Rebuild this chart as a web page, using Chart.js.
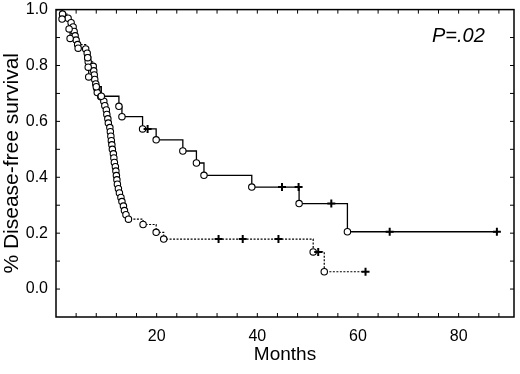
<!DOCTYPE html>
<html>
<head>
<meta charset="utf-8">
<script src="https://cdn.jsdelivr.net/npm/chart.js@4.4.0/dist/chart.umd.min.js"></script>
<style>
  html, body { margin: 0; padding: 0; background: #fff; }
  #wrap { width: 520px; height: 374px; }
</style>
</head>
<body>
<div id="wrap"><canvas id="km"></canvas></div>
<script>
// group drawn with the solid line
const solidEventMonths = [1.2, 2.6, 2.8, 4.4, 6.3, 6.4, 6.5, 8.0, 9.0, 12.5, 13.1, 17.2, 19.9, 25.2, 27.9, 29.4, 38.9, 48.3, 57.9];
const solidEventSurv   = [0.966, 0.931, 0.897, 0.862, 0.828, 0.794, 0.759, 0.724, 0.690, 0.654, 0.617, 0.573, 0.534, 0.494, 0.451, 0.407, 0.365, 0.306, 0.205];
const solidCensorMonths = [18.2, 44.9, 48.2, 54.7, 66.3, 87.6];
const solidCensorSurv   = [0.573, 0.365, 0.365, 0.306, 0.205, 0.205];

// group drawn with the dotted line
const dottedEventMonths = [1.3, 2.4, 3.0, 3.4, 3.6, 3.8, 4.0, 4.3, 5.9, 6.2, 6.3, 6.4, 7.4, 7.5, 7.6, 7.7, 7.9, 8.1, 8.2, 8.9,
  9.5, 9.7, 10.0, 10.1, 10.3, 10.4, 10.7, 10.8, 10.9, 11.0, 11.1, 11.2, 11.4, 11.5, 11.6, 11.8, 11.9, 12.0, 12.1, 12.2,
  12.4, 12.6, 12.9, 13.1, 13.4, 13.6, 13.9, 14.4, 17.3, 19.9, 21.4, 51.1, 53.3];
const dottedEventSurv = [0.984, 0.969, 0.953, 0.938, 0.922, 0.906, 0.891, 0.875, 0.859, 0.844, 0.828, 0.813, 0.797, 0.781, 0.766, 0.750, 0.734, 0.719, 0.703, 0.688,
  0.672, 0.656, 0.641, 0.625, 0.609, 0.594, 0.578, 0.563, 0.547, 0.531, 0.516, 0.500, 0.484, 0.469, 0.453, 0.438, 0.422, 0.406, 0.391, 0.375,
  0.359, 0.344, 0.328, 0.313, 0.297, 0.281, 0.266, 0.250, 0.231, 0.203, 0.179, 0.133, 0.062];
const dottedCensorMonths = [32.3, 37.1, 44.2, 52.1, 61.5];
const dottedCensorSurv   = [0.179, 0.179, 0.179, 0.133, 0.062];

const xTickLabels = [20, 40, 60, 80];
const yTickLabels = [0.0, 0.2, 0.4, 0.6, 0.8, 1.0];

function pts(xs, ys) {
  return xs.map((v, i) => ({ x: v, y: ys[i] }));
}

// step line goes through every event and censor point, starting at 1.0
function curve(eM, eS, cM, cS) {
  const all = pts(eM, eS).concat(pts(cM, cS));
  all.sort((a, b) => a.x - b.x);
  return [{ x: 0, y: 1 }].concat(all);
}

// frame, inward ticks on all four sides, and the P value
const frame = {
  id: 'frame',
  afterDraw(chart) {
    const { ctx, chartArea: a, scales: { x, y } } = chart;
    ctx.save();
    ctx.strokeStyle = '#000';
    ctx.lineWidth = 1;
    ctx.beginPath();
    for (let m = 4; m < 91; m += 4) {
      const px = x.getPixelForValue(m);
      ctx.moveTo(px, a.bottom); ctx.lineTo(px, a.bottom - 4);
      ctx.moveTo(px, a.top); ctx.lineTo(px, a.top + 4);
    }
    for (let k = 0; k < 10; k++) {
      const py = y.getPixelForValue(k / 10);
      ctx.moveTo(a.left, py); ctx.lineTo(a.left + 4, py);
      ctx.moveTo(a.right, py); ctx.lineTo(a.right - 4, py);
    }
    ctx.stroke();
    ctx.lineWidth = 1.5;
    ctx.strokeRect(a.left, a.top, a.width, a.height);
    ctx.fillStyle = '#000';
    ctx.font = 'italic 20px "Liberation Sans", Arial, sans-serif';
    ctx.textBaseline = 'alphabetic';
    ctx.fillText('P=.02', a.right - 82, a.top + 32);
    ctx.restore();
  }
};

const tickFont = { family: '"Liberation Sans", Arial, sans-serif', size: 16 };

new Chart(document.getElementById('km'), {
  type: 'scatter',
  data: {
    datasets: [
      { type: 'line', data: curve(solidEventMonths, solidEventSurv, solidCensorMonths, solidCensorSurv),
        stepped: true, borderColor: '#000', borderWidth: 1.3, pointRadius: 0, fill: false, order: 2 },
      { type: 'line', data: curve(dottedEventMonths, dottedEventSurv, dottedCensorMonths, dottedCensorSurv),
        stepped: true, borderColor: '#000', borderWidth: 1.2, borderDash: [2, 1.5], pointRadius: 0, fill: false, order: 2 },
      { data: pts(solidEventMonths, solidEventSurv), pointStyle: 'circle', pointRadius: 3.2,
        backgroundColor: '#fff', borderColor: '#000', borderWidth: 1.1, order: 1 },
      { data: pts(dottedEventMonths, dottedEventSurv), pointStyle: 'circle', pointRadius: 3.2,
        backgroundColor: '#fff', borderColor: '#000', borderWidth: 1.1, order: 1 },
      { data: pts(solidCensorMonths, solidCensorSurv), pointStyle: 'cross', pointRadius: 4,
        borderColor: '#000', borderWidth: 2, order: 0 },
      { data: pts(dottedCensorMonths, dottedCensorSurv), pointStyle: 'cross', pointRadius: 4,
        borderColor: '#000', borderWidth: 2, order: 0 }
    ]
  },
  options: {
    responsive: true,
    maintainAspectRatio: false,
    animation: false,
    layout: { padding: { top: 9, right: 5 } },
    plugins: { legend: { display: false }, tooltip: { enabled: false } },
    scales: {
      x: {
        type: 'linear', min: 0, max: 91,
        grid: { display: false },
        border: { display: false },
        afterFit: (s) => { s.height = 57; },
        ticks: {
          stepSize: 4, autoSkip: false, maxRotation: 0, padding: 2, color: '#000', font: tickFont,
          callback: (v) => xTickLabels.includes(v) ? String(v) : ''
        },
        title: { display: true, text: 'Months', color: '#000', padding: { top: 0, bottom: 8 },
          font: { family: '"Liberation Sans", Arial, sans-serif', size: 19 } }
      },
      y: {
        type: 'linear', min: -0.1, max: 1.0,
        grid: { display: false },
        border: { display: false },
        afterFit: (s) => { s.width = 56; },
        ticks: {
          stepSize: 0.1, autoSkip: false, padding: 0, color: '#000', font: tickFont,
          callback: (v) => {
            const r = Math.round(v * 10) / 10;
            return yTickLabels.includes(r) ? r.toFixed(1) : '';
          }
        },
        title: { display: true, text: '% Disease-free survival', color: '#000', padding: { top: 0, bottom: 0 },
          font: { family: '"Liberation Sans", Arial, sans-serif', size: 21 } }
      }
    }
  },
  plugins: [frame]
});
</script>
</body>
</html>
